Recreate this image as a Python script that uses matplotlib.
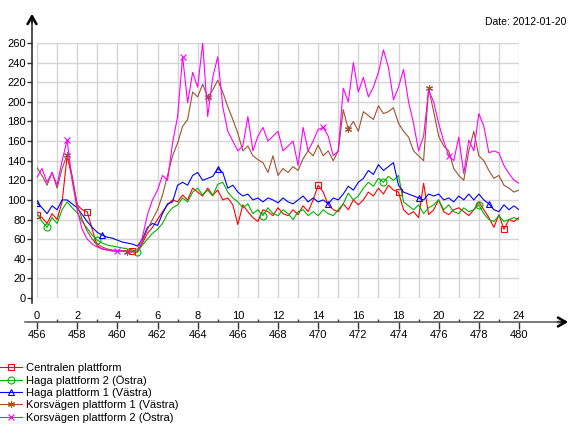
import matplotlib
matplotlib.use("Agg")
import matplotlib.pyplot as plt
from matplotlib.legend_handler import HandlerLine2D
import numpy as np

plt.rcParams['font.family'] = ['Liberation Sans', 'DejaVu Sans']
plt.rcParams['font.size'] = 8

W, H = 570, 441

# time of day, quarter hours
hours = np.arange(0, 24.25, 0.25)

centralen = [85, 82, 76, 86, 80, 98, 145, 122,
             95, 90, 88, 70, 53, 50, 49, 48,
             48, 48, 48, 48, 47, 56, 66, 72,
             80, 88, 95, 100, 98, 105, 100, 112,
             108, 104, 112, 105, 110, 100, 102, 95,
             75, 95, 88, 82, 78, 90, 88, 84,
             92, 86, 84, 90, 85, 94, 88, 100,
             115, 108, 95, 90, 88, 96, 90, 100,
             95, 100, 108, 104, 112, 106, 115, 110,
             108, 90, 85, 88, 82, 117, 85, 90,
             100, 88, 85, 90, 92, 88, 84, 90,
             98, 90, 82, 72, 85, 70, 80, 78,
             82]

haga2 = [86, 78, 72, 82, 76, 90, 98, 92,
         87, 78, 71, 64, 59, 56, 54, 53,
         52, 51, 50, 49, 47, 54, 60, 66,
         70, 76, 86, 92, 95, 102, 98, 108,
         112, 105, 110, 104, 116, 118, 108, 102,
         98, 92, 96, 86, 90, 84, 92, 86,
         84, 90, 86, 80, 88, 90, 84, 88,
         84, 90, 86, 84, 90, 96, 107, 100,
         104, 112, 118, 114, 122, 118, 124, 120,
         125, 98, 94, 90, 95, 86, 92, 95,
         100, 90, 95, 88, 86, 92, 88, 90,
         95, 86, 80, 78, 84, 78, 80, 82,
         80]

haga1 = [97, 92, 86, 94, 90, 100, 100, 96,
         92, 85, 78, 72, 67, 64, 62, 61,
         59, 57, 56, 55, 53, 60, 72, 76,
         74, 86, 96, 98, 115, 118, 115, 125,
         128, 120, 122, 124, 132, 128, 112, 115,
         108, 104, 106, 100, 102, 98, 102, 100,
         97, 102, 98, 96, 100, 104, 98, 102,
         98, 100, 96, 102, 100, 106, 114, 110,
         118, 122, 130, 126, 136, 130, 134, 138,
         115, 108, 106, 104, 102, 100, 106, 104,
         106, 100, 102, 98, 104, 100, 106, 100,
         106, 100, 96, 90, 88, 95, 90, 94,
         90]

korsvagen1 = [133, 125, 115, 128, 112, 132, 146, 125,
              95, 80, 68, 60, 55, 52, 50, 49,
              48, 48, 47, 47, 47, 58, 70, 80,
              90, 105, 125, 145, 158, 175, 182, 210,
              205, 218, 205, 212, 222, 210, 195, 182,
              168, 150, 155, 145, 141, 138, 128, 145,
              125, 132, 128, 134, 130, 142, 150, 145,
              156, 145, 150, 140, 150, 192, 172, 180,
              170, 190, 186, 182, 196, 188, 190, 194,
              178, 170, 164, 150, 145, 140, 214, 190,
              165, 155, 150, 132, 125, 120, 150, 170,
              145, 140, 130, 122, 125, 115, 112, 108,
              110]

korsvagen2 = [123, 132, 118, 128, 115, 140, 161, 120,
              90, 70, 60, 55, 52, 50, 49, 48,
              48, 48, 47, 47, 48, 62, 85, 100,
              110, 125, 120, 158, 185, 246, 199, 230,
              215, 260, 185, 225, 246, 195, 170, 160,
              150, 155, 185, 150, 165, 174, 160, 165,
              170, 150, 155, 160, 135, 174, 150, 160,
              172, 174, 165, 145, 150, 214, 200, 240,
              210, 225, 205, 215, 230, 253, 235, 202,
              215, 233, 200, 178, 150, 165, 212, 200,
              178, 160, 145, 140, 164, 127, 161, 150,
              188, 175, 148, 150, 148, 135, 127, 120,
              117]

labels = ['Centralen plattform', 'Haga plattform 2 (Östra)', 'Haga plattform 1 (Västra)',
          'Korsvägen plattform 1 (Västra)', 'Korsvägen plattform 2 (Östra)']
series = [centralen, haga2, haga1, korsvagen1, korsvagen2]
colors = ['#ff0000', '#00b400', '#0000ff', '#a0522d', '#ff00ff']
markers = ['s', 'o', '^', (6, 2, 0), 'x']
marks = [[0, 10, 19, 56, 72, 93],
         [2, 12, 20, 45, 69, 88],
         [0, 13, 36, 58, 76, 90],
         [6, 18, 34, 62, 78],
         [6, 16, 29, 57, 82]]

bottom_labels = [str(v) for v in range(456, 481, 2)]

fig = plt.figure(figsize=(W / 100, H / 100), dpi=100)
ax = fig.add_axes([37 / W, 1 - 298 / H, 482 / W, 255 / H])

for y, lab, c, m, mk in zip(series, labels, colors, markers, marks):
    ax.plot(hours, y, color=c, lw=0.8, marker=m, markevery=mk, markersize=5,
            markerfacecolor='none', markeredgecolor=c, markeredgewidth=0.8, label=lab)

ax.set_xlim(0, 24)
ax.set_ylim(0, 260)
ax.set_xticks(range(0, 25))
ax.set_yticks(range(0, 261, 20))
ax.grid(color='#d4d4d4', lw=1)
ax.set_axisbelow(True)
for s in ax.spines.values():
    s.set_visible(False)
ax.spines['left'].set_position(('outward', 3.6))
ax.tick_params(axis='x', length=0, labelbottom=False)
ax.tick_params(axis='y', length=3.6, width=1, pad=1, color='#333333')

# y axis with arrow
fig.add_artist(plt.Line2D([32 / W, 32 / W], [1 - 303 / H, 1 - 20 / H], color='#222222', lw=1.1))
ax.annotate('', xy=(32 / W, 1 - 11 / H), xytext=(32 / W, 1 - 25 / H), xycoords='figure fraction',
            arrowprops=dict(arrowstyle='->,head_length=0.7,head_width=0.4', color='black', lw=1.8))

# separate x axis below the plot
axx = fig.add_axes([37 / W, 1 - 322 / H, 482 / W, 0])
axx.set_xlim(0, 24)
axx.set_yticks([])
for s in axx.spines.values():
    s.set_visible(False)
axx.set_xticks(range(0, 25, 2))
axx.set_xticklabels(bottom_labels)
axx.set_xticks(range(1, 25, 2), minor=True)
axx.tick_params(axis='x', which='major', length=5, width=1, pad=0.5, color='#333333')
axx.tick_params(axis='x', which='minor', direction='in', length=2.5, width=1, color='#333333')
top = axx.secondary_xaxis('top')
top.set_xticks(range(0, 25, 2))
top.tick_params(length=0, pad=1)
top.spines['top'].set_visible(False)
fig.add_artist(plt.Line2D([25 / W, 560 / W], [1 - 322 / H, 1 - 322 / H], color='#555555', lw=1.1))
ax.annotate('', xy=(571 / W, 1 - 322 / H), xytext=(555 / W, 1 - 322 / H), xycoords='figure fraction',
            arrowprops=dict(arrowstyle='->,head_length=0.7,head_width=0.4', color='black', lw=1.8))

fig.text(566 / W, 1 - 22 / H, 'Date: 2012-01-20', ha='right', va='center', fontsize=7.5)


class LeftMarker(HandlerLine2D):
    def get_xdata(self, legend, xdescent, ydescent, width, height, fontsize):
        return (np.array([-xdescent, -xdescent + width]),
                np.array([-xdescent + 0.15 * width]))


handles, labs = ax.get_legend_handles_labels()
fig.legend(handles, labs, loc='upper left', bbox_to_anchor=(0, 1 - 363 / H), frameon=False,
           handlelength=2.0, handletextpad=0.3, labelspacing=0.18, borderpad=0, borderaxespad=0,
           fontsize=8, handler_map={h: LeftMarker() for h in handles})

fig.savefig('out.png', dpi=100)
